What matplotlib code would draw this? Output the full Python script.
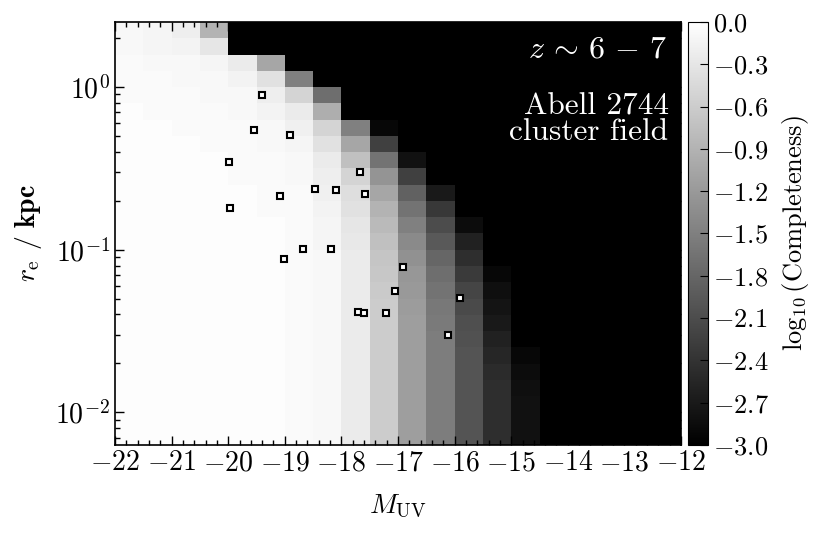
import numpy as np
import matplotlib
matplotlib.use('Agg')
import matplotlib.pyplot as plt
from matplotlib.ticker import MultipleLocator, FuncFormatter, LogLocator, NullFormatter

plt.rcParams['mathtext.fontset'] = 'cm'
plt.rcParams['font.family'] = 'serif'
plt.rcParams['font.serif'] = ['cmr10', 'DejaVu Serif']
plt.rcParams['axes.formatter.use_mathtext'] = True

# bins: M_UV in 0.5 mag steps, log10(r_e/kpc) in 0.1 dex steps
M_lo, M_hi, dM = -22.0, -12.0, 0.5
logr_lo, logr_hi, dlogr = -2.2, 0.4, 0.1

N = np.nan  # no completeness (drawn black)

# log10(completeness), rows from top (log r = 0.3..0.4) to bottom (-2.2..-2.1)
completeness = [
    [-0.09, -0.12, -0.21, -0.90, N, N, N, N, N, N, N, N, N, N, N, N, N, N, N, N],
    [-0.09, -0.12, -0.15, -0.30, N, N, N, N, N, N, N, N, N, N, N, N, N, N, N, N],
    [-0.06, -0.09, -0.09, -0.12, -0.24, -1.05, N, N, N, N, N, N, N, N, N, N, N, N, N, N],
    [-0.06, -0.06, -0.09, -0.09, -0.15, -0.36, -1.50, N, N, N, N, N, N, N, N, N, N, N, N, N],
    [-0.06, -0.06, -0.06, -0.09, -0.09, -0.21, -0.51, -1.71, N, N, N, N, N, N, N, N, N, N, N, N],
    [-0.03, -0.06, -0.06, -0.06, -0.09, -0.15, -0.24, -0.96, N, N, N, N, N, N, N, N, N, N, N, N],
    [-0.03, -0.03, -0.06, -0.06, -0.06, -0.09, -0.18, -0.51, -1.50, -2.91, N, N, N, N, N, N, N, N, N, N],
    [-0.03, -0.03, -0.03, -0.06, -0.06, -0.09, -0.12, -0.36, -1.05, -2.25, N, N, N, N, N, N, N, N, N, N],
    [-0.03, -0.03, -0.03, -0.03, -0.06, -0.06, -0.09, -0.24, -0.75, -1.65, -2.79, N, N, N, N, N, N, N, N, N],
    [-0.03, -0.03, -0.03, -0.03, -0.06, -0.06, -0.09, -0.21, -0.51, -1.26, -2.25, N, N, N, N, N, N, N, N, N],
    [-0.03, -0.03, -0.03, -0.03, -0.03, -0.06, -0.06, -0.18, -0.39, -1.05, -1.86, -2.70, N, N, N, N, N, N, N, N],
    [-0.03, -0.03, -0.03, -0.03, -0.03, -0.06, -0.06, -0.15, -0.36, -0.90, -1.65, -2.34, N, N, N, N, N, N, N, N],
    [-0.03, -0.03, -0.03, -0.03, -0.03, -0.03, -0.06, -0.12, -0.30, -0.81, -1.50, -2.10, -2.85, N, N, N, N, N, N, N],
    [-0.03, -0.03, -0.03, -0.03, -0.03, -0.03, -0.06, -0.12, -0.27, -0.75, -1.38, -1.95, -2.61, N, N, N, N, N, N, N],
    [-0.03, -0.03, -0.03, -0.03, -0.03, -0.03, -0.06, -0.09, -0.24, -0.69, -1.29, -1.80, -2.46, N, N, N, N, N, N, N],
    [-0.03, -0.03, -0.03, -0.03, -0.03, -0.03, -0.06, -0.09, -0.24, -0.66, -1.23, -1.71, -2.31, -2.91, N, N, N, N, N, N],
    [-0.03, -0.03, -0.03, -0.03, -0.03, -0.03, -0.06, -0.09, -0.24, -0.63, -1.20, -1.65, -2.19, -2.82, N, N, N, N, N, N],
    [-0.03, -0.03, -0.03, -0.03, -0.03, -0.03, -0.06, -0.09, -0.24, -0.60, -1.17, -1.59, -2.13, -2.76, N, N, N, N, N, N],
    [-0.03, -0.03, -0.03, -0.03, -0.03, -0.03, -0.06, -0.09, -0.24, -0.60, -1.14, -1.56, -2.07, -2.70, N, N, N, N, N, N],
    [-0.03, -0.03, -0.03, -0.03, -0.03, -0.03, -0.06, -0.09, -0.24, -0.60, -1.14, -1.53, -2.04, -2.61, N, N, N, N, N, N],
    [-0.03, -0.03, -0.03, -0.03, -0.03, -0.03, -0.06, -0.09, -0.24, -0.60, -1.14, -1.53, -2.01, -2.55, -2.91, N, N, N, N, N],
    [-0.03, -0.03, -0.03, -0.03, -0.03, -0.03, -0.06, -0.09, -0.24, -0.60, -1.14, -1.53, -2.01, -2.49, -2.85, N, N, N, N, N],
    [-0.03, -0.03, -0.03, -0.03, -0.03, -0.03, -0.06, -0.09, -0.24, -0.60, -1.14, -1.53, -2.01, -2.46, -2.82, N, N, N, N, N],
    [-0.03, -0.03, -0.03, -0.03, -0.03, -0.03, -0.06, -0.09, -0.24, -0.60, -1.14, -1.53, -2.01, -2.46, -2.80, N, N, N, N, N],
    [-0.03, -0.03, -0.03, -0.03, -0.03, -0.03, -0.06, -0.09, -0.24, -0.60, -1.14, -1.53, -2.01, -2.46, -2.80, N, N, N, N, N],
    [-0.03, -0.03, -0.03, -0.03, -0.03, -0.03, -0.06, -0.09, -0.24, -0.60, -1.14, -1.53, -2.01, -2.46, -2.80, N, N, N, N, N],
]

# observed galaxies
M_uv = [-19.40, -19.54, -18.90, -19.98, -17.67, -18.47, -18.10, -19.08, -17.58, -19.97,
        -18.67, -18.18, -19.01, -16.92, -17.06, -17.71, -17.60, -17.22, -15.90, -16.12]
r_e = [0.889, 0.547, 0.508, 0.344, 0.300, 0.236, 0.234, 0.215, 0.219, 0.181,
       0.101, 0.101, 0.0875, 0.078, 0.0557, 0.0414, 0.0406, 0.0406, 0.0506, 0.030]

# --- figure ---
fig = plt.figure(figsize=(8.31, 5.36), dpi=100)
ax = fig.add_axes([0.1384, 0.1698, 0.6811, 0.7892])
cax = fig.add_axes([0.8279, 0.1698, 0.0241, 0.7892])

Z = np.array(completeness)[::-1]  # bottom row first
M_edges = np.linspace(M_lo, M_hi, Z.shape[1] + 1)
r_edges = 10 ** np.linspace(logr_lo, logr_hi, Z.shape[0] + 1)

cmap = plt.get_cmap('gray').copy()
cmap.set_bad('black')
mesh = ax.pcolormesh(M_edges, r_edges, np.ma.masked_invalid(Z), cmap=cmap, vmin=-3, vmax=0)
ax.set_facecolor('black')

ax.plot(M_uv, r_e, 's', ms=5, mfc='white', mec='black', mew=1.5)

ax.set_yscale('log')
ax.set_xlim(M_lo, M_hi)
ax.set_ylim(10 ** logr_lo, 10 ** logr_hi)

ax.xaxis.set_major_locator(MultipleLocator(1))
ax.xaxis.set_minor_locator(MultipleLocator(0.2))
ax.xaxis.set_major_formatter(FuncFormatter(lambda v, p: '$%d$' % round(v)))
ax.yaxis.set_major_locator(LogLocator(base=10))
ax.yaxis.set_minor_locator(LogLocator(base=10, subs=np.arange(2, 10)))
ax.yaxis.set_major_formatter(FuncFormatter(lambda v, p: '$10^{%d}$' % round(np.log10(v))))
ax.yaxis.set_minor_formatter(NullFormatter())
ax.tick_params(which='both', direction='in', top=True, right=True, labelsize=20, color='black')
ax.tick_params(which='major', length=6.5, width=1)
ax.tick_params(which='minor', length=3.5, width=1)
for s in ax.spines.values():
    s.set_linewidth(1.2)

ax.set_xlabel(r'$M_{\rm UV}$', fontsize=20, labelpad=12)
ax.set_ylabel(r'$r_{\rm e}$ $\mathbf{/\ kpc}$', fontsize=20, labelpad=8)

ax.text(0.975, 0.935, r'$z\,\sim\,6\,-\,7$', color='white', fontsize=23, ha='right', va='center',
        transform=ax.transAxes)
ax.text(0.978, 0.77, 'Abell 2744\ncluster field', color='white', fontsize=22.5, ha='right', va='center',
        linespacing=0.92, transform=ax.transAxes)

cb = fig.colorbar(mesh, cax=cax)
cb.set_ticks(np.linspace(0, -3, 11))
cb.ax.yaxis.set_major_formatter(FuncFormatter(lambda v, p: '$%.1f$' % v))
cb.ax.tick_params(direction='in', labelsize=19, length=6, left=False, right=True)
cb.set_label(r'$\log_{10}(\mathrm{Completeness})$', fontsize=19, labelpad=8)

fig.savefig('out.png', dpi=100)
